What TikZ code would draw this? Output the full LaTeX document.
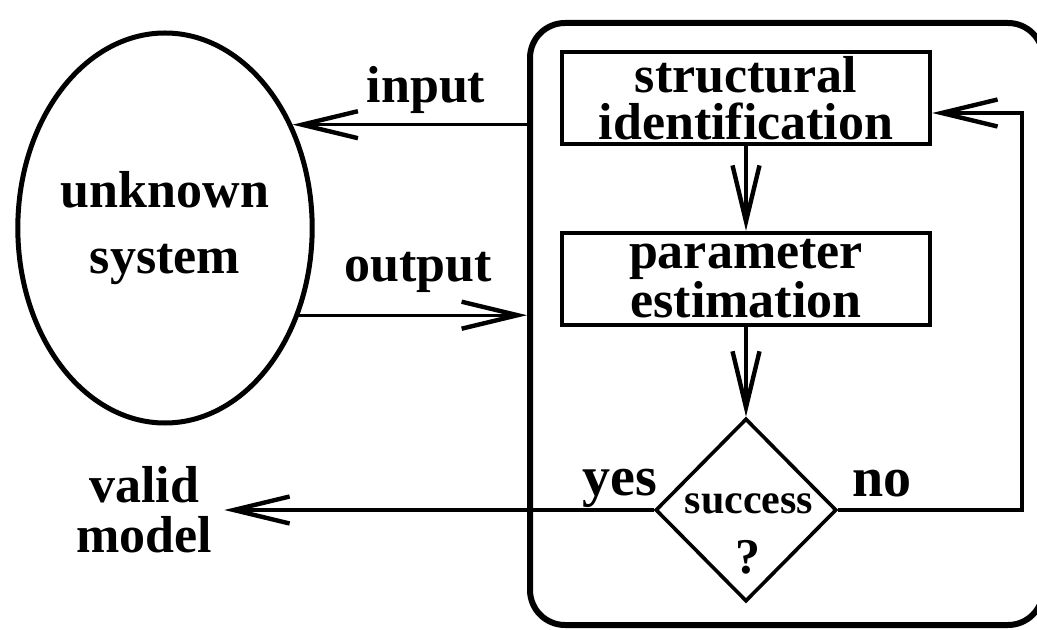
\documentclass[tikz,border=0pt]{standalone}
\usepackage{fontspec}
\setmainfont{Liberation Serif}
\usetikzlibrary{arrows.meta,shapes.geometric}
\begin{document}
\begin{tikzpicture}[x=0.5pt,y=-0.5pt,
  lbl/.style={font=\bfseries\fontsize{26}{25}\selectfont, inner sep=0pt},
  biglbl/.style={font=\bfseries\fontsize{28}{28}\selectfont, inner sep=0pt},
  arr/.style={line width=1.7pt, -{Straight Barb[length=28pt,width=13.5pt,line width=2.2pt]}},
  procbox/.style={draw, line width=2.2pt, minimum width=184pt, minimum height=46pt,
    inner sep=0pt, align=center, font=\bfseries\fontsize{26}{23.5}\selectfont},
]
\fill[white] (0,0) rectangle (1037,630);
\useasboundingbox (0,0) rectangle (1037,630);

% frame around the identification loop (its right side lies beyond the picture edge)
\node[draw, rounded corners=17.5pt, line width=3pt, minimum width=256.5pt,
      minimum height=301pt, inner sep=0pt] (frame) at (786.5,324) {};

% unknown system
\node[draw, ellipse, line width=2.5pt, minimum width=142pt, minimum height=195pt,
      inner sep=0pt, align=center, font=\bfseries\fontsize{26}{33}\selectfont]
      (sys) at (165,228) {unknown\\system};

% process boxes
\node[procbox] (box1) at (746,98) {structural\\identification};
\node[procbox] (box2) at (746,279) {parameter\\estimation};

% decision
\node[draw, diamond, aspect=1, line width=1.8pt, minimum width=90.5pt,
      minimum height=91.5pt, inner sep=0pt] (dia) at (746,510) {};
\node[anchor=base, inner sep=0pt, font=\bfseries\fontsize{21}{21}\selectfont] (succ) at (749,513) {success};
\node[anchor=base, inner sep=0pt, font=\bfseries\fontsize{25}{25}\selectfont] (qm) at (748,573) {?};

% labels
\node[lbl, anchor=base] (inlbl) at (426,103) {input};
\node[lbl, anchor=base] (outlbl) at (418,282) {output};
\node[biglbl, anchor=base] (yes) at (620,495) {yes};
\node[biglbl, anchor=base] (no) at (882,496) {no};
\node[align=center, inner sep=6pt, font=\bfseries\fontsize{26}{25}\selectfont]
      (vm) at (144,510) {valid\\model};

\coordinate (fbx) at (1022,0);

% connectors
\draw[arr] (frame.west |- sys.39) -- (sys.39);
\draw[arr] (sys.-33) -- (frame.west |- sys.-33);
\draw[arr] (box1) -- (box2);
\draw[arr] (box2) -- (dia);
\draw[arr] (dia.west) -- (vm.east |- dia.west);
\draw[arr] (dia.east) -- (dia.east -| fbx) |- ([yshift=-7.5pt]box1.east);
\end{tikzpicture}
\end{document}
